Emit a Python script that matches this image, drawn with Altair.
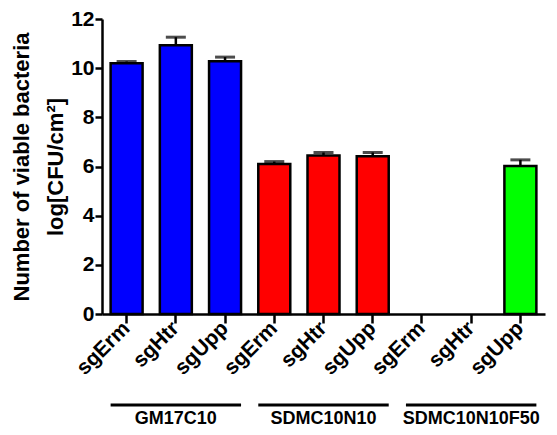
import altair as alt
import pandas as pd

# ---- data ----
groups = ["GM17C10"] * 3 + ["SDMC10N10"] * 3 + ["SDMC10N10F50"] * 3
strains = ["sgErm", "sgHtr", "sgUpp"] * 3
means = [10.2, 10.93, 10.28, 6.1, 6.45, 6.42, 0.0, 0.0, 6.02]
errors = [0.07, 0.33, 0.17, 0.1, 0.12, 0.15, 0.0, 0.0, 0.25]
colors = ["#0000FF"] * 3 + ["#FF0000"] * 3 + ["#00FF00"] * 3
group_names = ["GM17C10", "SDMC10N10", "SDMC10N10F50"]
y_ticks = [0, 2, 4, 6, 8, 10, 12]

FONT = "Liberation Sans"

keys = [f"{g}|{s}" for g, s in zip(groups, strains)]
df = pd.DataFrame({
    "key": keys, "group": groups, "strain": strains,
    "mean": means, "err": errors, "color": colors,
})
df["top"] = df["mean"] + df["err"]
df_pos = df[df["mean"] > 0]

gdf = pd.DataFrame({
    "group": group_names,
    "start": [f"{g}|sgErm" for g in group_names],
    "mid": [f"{g}|sgHtr" for g in group_names],
    "end": [f"{g}|sgUpp" for g in group_names],
})

xscale = alt.Scale(domain=keys, paddingInner=0.35, paddingOuter=0.175)
yscale = alt.Scale(domain=[0, 12], nice=False)

xaxis = alt.Axis(
    labelExpr="split(datum.label, '|')[1]", labelAngle=-45, labelAlign="right",
    labelBaseline="middle", labelFontSize=21, labelFontWeight="bold", labelFont=FONT,
    labelColor="black", tickColor="black", tickWidth=2.5, tickSize=9,
    domainColor="black", domainWidth=2.5, labelPadding=2, title=None, grid=False,
)
yaxis = alt.Axis(
    values=y_ticks, labelFontSize=21, labelFontWeight="bold", labelFont=FONT,
    labelColor="black", tickColor="black", tickWidth=2.5, tickSize=7,
    domainColor="black", domainWidth=2.5, labelPadding=1, grid=False,
    title=["Number of viable bacteria", "log[CFU/cm²]"], titleFont=FONT,
    titleFontSize=22, titleFontWeight="bold", titleColor="black",
    titleLineHeight=34, titlePadding=3,
)

bars = alt.Chart(df_pos).mark_bar(stroke="black", strokeWidth=2.5).encode(
    x=alt.X("key:N", scale=xscale, axis=xaxis, sort=keys),
    y=alt.Y("mean:Q", scale=yscale, axis=yaxis),
    fill=alt.Fill("color:N", scale=None),
)

err_rule = alt.Chart(df_pos).mark_rule(color="black", strokeWidth=2.5).encode(
    x=alt.X("key:N", scale=xscale, sort=keys),
    y=alt.Y("mean:Q", scale=yscale),
    y2="top:Q",
)
err_cap = alt.Chart(df_pos).mark_tick(color="black", thickness=3, size=20, orient="horizontal").encode(
    x=alt.X("key:N", scale=xscale, sort=keys),
    y=alt.Y("top:Q", scale=yscale),
)

group_lines = alt.Chart(gdf).mark_rule(color="black", strokeWidth=3).encode(
    x=alt.X("start:N", scale=xscale, bandPosition=0),
    x2=alt.X2("end:N", bandPosition=1),
    y=alt.value(386),
)
group_text = alt.Chart(gdf).mark_text(
    font=FONT, fontSize=18, fontWeight="bold", color="black", baseline="middle"
).encode(
    x=alt.X("mid:N", scale=xscale),
    y=alt.value(400),
    text="group:N",
)

chart = alt.layer(bars, err_rule, err_cap, group_lines, group_text).properties(
    width=443, height=295,
    autosize=alt.AutoSizeParams(type="none"),
    padding={"left": 94, "top": 11, "right": 4, "bottom": 113},
    background="white",
).configure_view(stroke=None)

chart.save("out.html", embed_options={"renderer": "svg", "actions": False})
